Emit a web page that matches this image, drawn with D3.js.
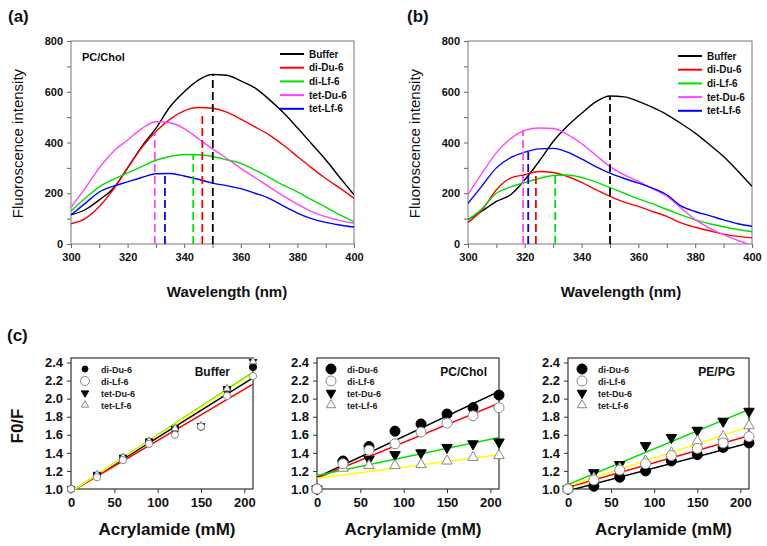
<!DOCTYPE html>
<html>
<head>
<meta charset="utf-8">
<script src="https://cdn.jsdelivr.net/npm/d3@7"></script>
<style>
  body { margin: 0; background: #fff; }
  svg text { font-family: "Liberation Sans", Arial, Helvetica, sans-serif; }
</style>
</head>
<body>
<svg id="chart" width="767" height="546"></svg>
<script>
// ---- spectra (a) PC/Chol and (b), sampled every 5 nm ----
const wavelengths = [300,305,310,315,320,325,330,335,340,345,350,355,360,365,370,375,380,385,390,395,400];
const spectrumNames = ["Buffer", "di-Du-6", "di-Lf-6", "tet-Du-6", "tet-Lf-6"];
const spectrumColors = ["#000000", "#ff0000", "#00e000", "#ff44ff", "#0000ff"];

const aBuffer = [115,135,174,220,300,384,456,541,600,646,668,665,643,615,570,518,458,395,332,262,194];
const aDiDu   = [80,100,148,215,299,380,443,492,525,538,535,520,492,462,430,390,345,300,258,220,180];
const aDiLf   = [130,180,225,255,280,305,330,345,353,352,345,332,318,292,263,232,205,175,145,115,88];
const aTetDu  = [145,220,300,365,410,455,482,478,455,415,375,338,298,262,225,190,157,128,108,92,82];
const aTetLf  = [115,160,205,228,245,262,277,278,268,255,240,230,218,200,180,150,122,100,85,75,67];

const bBuffer = [96,130,168,194,253,325,404,465,515,560,583,580,562,538,510,475,437,392,345,288,227];
const bDiDu   = [85,135,214,260,273,286,282,266,243,214,188,165,148,128,109,83,66,52,39,30,24];
const bDiLf   = [95,140,200,225,242,258,270,272,262,245,222,200,178,158,136,115,95,80,68,57,48];
const bTetDu  = [195,280,360,415,448,457,455,432,395,350,305,272,247,218,188,142,96,63,37,14,-5];
const bTetLf  = [160,230,300,340,362,375,377,362,335,305,279,258,240,220,194,150,128,112,95,80,70];

// dashed lines marking emission maxima: wavelength and top value
const aPeakNm  = [350.1, 346.4, 343.2, 329.6, 333.2];
const aPeakTop = [670, 515, 354, 440, 282];
const bPeakNm  = [350.0, 323.9, 330.7, 319.4, 321.2];
const bPeakTop = [583, 276, 272, 450, 372];

// ---- (c) acrylamide quenching ----
const acrylamide = [0, 30, 60, 90, 120, 150, 180, 210];
const quenchNames = ["di-Du-6", "di-Lf-6", "tet-Du-6", "tet-Lf-6"];
const fitColors = ["#000000", "#ff0000", "#00e000", "#ffff00"];
const fitEnds = [0, 210];

const bufDiDu  = [1.00,1.15,1.34,1.52,1.66,1.69,2.10,2.35];
const bufDiLf  = [1.00,1.13,1.32,1.50,1.60,1.69,2.03,2.25];
const bufTetDu = [1.00,1.16,1.35,1.53,1.67,1.70,2.11,2.41];
const bufTetLf = [1.00,1.16,1.35,1.53,1.67,1.70,2.11,2.41];
const bufFits  = [[0.97,2.23],[0.97,2.16],[0.97,2.29],[0.97,2.28]];

const pcDiDu  = [1.00,1.31,1.47,1.64,1.72,1.83,1.90,2.04];
const pcDiLf  = [1.00,1.28,1.43,1.50,1.63,1.73,1.81,1.90];
const pcTetDu = [1.00,1.28,1.33,1.38,1.40,1.46,1.50,1.52];
const pcTetLf = [1.00,1.23,1.26,1.26,1.27,1.31,1.35,1.37];
const pcFits  = [[1.13,2.08],[1.12,1.95],[1.15,1.57],[1.12,1.38]];

const peDiDu  = [1.00,1.03,1.13,1.20,1.31,1.38,1.46,1.51];
const peDiLf  = [1.00,1.10,1.21,1.28,1.37,1.45,1.51,1.58];
const peTetDu = [1.00,1.18,1.27,1.48,1.57,1.65,1.75,1.86];
const peTetLf = [1.00,1.12,1.23,1.31,1.40,1.53,1.58,1.70];
const peFits  = [[0.98,1.51],[1.02,1.59],[1.05,1.88],[1.03,1.69]];

const svg = d3.select("#chart");
let clipId = 0;

function styleAxis(g, size, color) {
  g.select(".domain").remove();
  g.selectAll(".tick line").attr("stroke", color);
  g.selectAll(".tick text")
    .attr("font-size", size)
    .attr("font-weight", "bold")
    .attr("fill", "#111")
    .style("font-family", '"Liberation Sans", Arial, sans-serif');
}

function addClip(box) {
  const id = "clip" + (clipId++);
  svg.append("clipPath").attr("id", id)
    .append("rect")
    .attr("x", box.x0).attr("y", box.y0)
    .attr("width", box.x1 - box.x0).attr("height", box.y1 - box.y0);
  return id;
}

// ---------- spectrum panels ----------
function drawSpectrum(box, series, peakNm, peakTop, opts) {
  const x = d3.scaleLinear().domain([300, 400]).range([box.x0, box.x1]);
  const y = d3.scaleLinear().domain([0, 800]).range([box.y1, box.y0]);
  const g = svg.append("g");
  const clip = addClip(box);

  const xa = g.append("g").attr("transform", `translate(0,${box.y1})`)
    .call(d3.axisBottom(x).tickValues(d3.range(300, 401, 10)).tickSize(4).tickPadding(5)
      .tickFormat(d => d % 20 === 0 ? d : ""));
  styleAxis(xa, 11, "#666");
  const ya = g.append("g").attr("transform", `translate(${box.x0},0)`)
    .call(d3.axisLeft(y).tickValues(d3.range(0, 801, 100)).tickSize(4).tickPadding(4)
      .tickFormat(d => d % 200 === 0 ? d : ""));
  styleAxis(ya, 11, "#666");

  g.append("rect")
    .attr("x", box.x0).attr("y", box.y0)
    .attr("width", box.x1 - box.x0).attr("height", box.y1 - box.y0)
    .attr("fill", "none").attr("stroke", "#777").attr("stroke-width", 1);

  const line = d3.line()
    .x((d, i) => x(wavelengths[i]))
    .y(d => y(d))
    .curve(d3.curveMonotoneX);

  const plot = g.append("g").attr("clip-path", `url(#${clip})`);
  series.forEach((s, i) => {
    plot.append("path").datum(s)
      .attr("d", line)
      .attr("fill", "none")
      .attr("stroke", spectrumColors[i])
      .attr("stroke-width", 1.4);
  });

  peakNm.forEach((nm, i) => {
    plot.append("line")
      .attr("x1", x(nm)).attr("x2", x(nm))
      .attr("y1", y(0)).attr("y2", y(peakTop[i]))
      .attr("stroke", spectrumColors[i])
      .attr("stroke-width", 1.8)
      .attr("stroke-dasharray", "8,4");
  });

  // legend
  const lg = g.append("g");
  spectrumNames.forEach((name, i) => {
    const ly = opts.legendY + i * 13.7;
    lg.append("line")
      .attr("x1", box.x1 - 74).attr("x2", box.x1 - 50)
      .attr("y1", ly).attr("y2", ly)
      .attr("stroke", spectrumColors[i]).attr("stroke-width", 2);
    lg.append("text")
      .attr("x", box.x1 - 45).attr("y", ly + 3.5)
      .attr("font-size", 10).attr("font-weight", "bold").attr("fill", "#111")
      .text(name);
  });

  if (opts.title) {
    g.append("text").attr("x", box.x0 + 11).attr("y", box.y0 + 20)
      .attr("font-size", 11).attr("font-weight", "bold").attr("fill", "#111")
      .text(opts.title);
  }

  g.append("text")
    .attr("transform", `translate(${box.x0 - 48},${(box.y0 + box.y1) / 2 + 1}) rotate(-90)`)
    .attr("text-anchor", "middle")
    .attr("font-size", 15).attr("fill", "#111")
    .text("Fluoroscence intensity");

  g.append("text")
    .attr("x", opts.xLabelX).attr("y", 297)
    .attr("text-anchor", "middle")
    .attr("font-size", 15).attr("font-weight", "bold").attr("fill", "#111")
    .text("Wavelength (nm)");

  g.append("text")
    .attr("x", opts.letterX).attr("y", 22)
    .attr("font-size", 17).attr("font-weight", "bold").attr("fill", "#111")
    .text(opts.letter);
}

// ---------- quenching panels ----------
function marker(sel, kind, s) {
  if (kind === 0 || kind === 1) {
    sel.append("circle").attr("r", s)
      .attr("fill", kind === 0 ? "#000" : "#fff")
      .attr("stroke", kind === 0 ? "#000" : "#888")
      .attr("stroke-width", 1);
  } else {
    const area = Math.sqrt(3) / 4 * Math.pow(s * 2.1, 2);
    sel.append("path")
      .attr("d", d3.symbol().type(d3.symbolTriangle).size(area))
      .attr("transform", kind === 2 ? "rotate(180)" : null)
      .attr("fill", kind === 2 ? "#000" : "#fff")
      .attr("stroke", kind === 2 ? "#000" : "#888")
      .attr("stroke-width", 1);
  }
}

function drawQuench(box, series, fits, opts) {
  const x = d3.scaleLinear().domain([0, 210]).range([box.x0, box.x1]);
  const y = d3.scaleLinear().domain([1, 2.45]).range([box.y1, box.y0]);
  const g = svg.append("g");
  const clip = addClip(box);

  const xa = g.append("g").attr("transform", `translate(0,${box.y1})`)
    .call(d3.axisBottom(x).tickValues([0, 50, 100, 150, 200]).tickSize(4).tickPadding(5));
  styleAxis(xa, 13, "#333");
  const ya = g.append("g").attr("transform", `translate(${box.x0},0)`)
    .call(d3.axisLeft(y).tickValues(d3.range(1, 2.41, 0.2)).tickSize(4).tickPadding(4)
      .tickFormat(d3.format(".1f")));
  styleAxis(ya, 13, "#333");

  g.append("rect")
    .attr("x", box.x0).attr("y", box.y0)
    .attr("width", box.x1 - box.x0).attr("height", box.y1 - box.y0)
    .attr("fill", "none").attr("stroke", "#333").attr("stroke-width", 1.2);

  const plot = g.append("g").attr("clip-path", `url(#${clip})`);
  const fitLine = d3.line().x((d, i) => x(fitEnds[i])).y(d => y(d));
  fits.forEach((f, i) => {
    plot.append("path").datum(f)
      .attr("d", fitLine)
      .attr("fill", "none")
      .attr("stroke", fitColors[i])
      .attr("stroke-width", 1.5);
  });

  // draw order so the open circle ends on top
  [0, 2, 3, 1].forEach(k => {
    g.selectAll(null).data(series[k]).enter()
      .append("g")
      .attr("transform", (d, i) => `translate(${x(acrylamide[i])},${y(d)})`)
      .each(function () { marker(d3.select(this), k, opts.size); });
  });

  // legend
  quenchNames.forEach((name, i) => {
    const ly = box.y0 + 11 + i * 12;
    marker(g.append("g").attr("transform", `translate(${box.x0 + 14},${ly})`), i, opts.legendSize[i]);
    g.append("text")
      .attr("x", box.x0 + 30).attr("y", ly + 3.5)
      .attr("font-size", 9).attr("font-weight", "bold").attr("fill", "#222")
      .text(name);
  });

  g.append("text")
    .attr("x", box.x1 - opts.titleRight).attr("y", box.y0 + 18)
    .attr("text-anchor", "end")
    .attr("font-size", 12).attr("font-weight", "bold").attr("fill", "#111")
    .text(opts.title);

  g.append("text")
    .attr("x", (box.x0 + box.x1) / 2 + 5).attr("y", 535)
    .attr("text-anchor", "middle")
    .attr("font-size", 17).attr("font-weight", "bold").attr("fill", "#111")
    .text("Acrylamide (mM)");
}

drawSpectrum({x0: 71, x1: 354, y0: 41, y1: 244},
  [aBuffer, aDiDu, aDiLf, aTetDu, aTetLf], aPeakNm, aPeakTop,
  {legendY: 54, title: "PC/Chol", xLabelX: 227, letter: "(a)", letterX: 8});

drawSpectrum({x0: 468, x1: 752, y0: 41, y1: 244},
  [bBuffer, bDiDu, bDiLf, bTetDu, bTetLf], bPeakNm, bPeakTop,
  {legendY: 56, title: null, xLabelX: 621, letter: "(b)", letterX: 407});

drawQuench({x0: 71, x1: 253, y0: 358, y1: 489},
  [bufDiDu, bufDiLf, bufTetDu, bufTetLf], bufFits,
  {size: 3.6, legendSize: [3, 4.5, 3.5, 3.5], title: "Buffer", titleRight: 23});

drawQuench({x0: 317, x1: 499, y0: 358, y1: 489},
  [pcDiDu, pcDiLf, pcTetDu, pcTetLf], pcFits,
  {size: 5, legendSize: [5, 5, 4.5, 4.5], title: "PC/Chol", titleRight: 12});

drawQuench({x0: 568, x1: 749, y0: 358, y1: 489},
  [peDiDu, peDiLf, peTetDu, peTetLf], peFits,
  {size: 5, legendSize: [5, 5, 4.5, 4.5], title: "PE/PG", titleRight: 14});

svg.append("text").attr("x", 7).attr("y", 341)
  .attr("font-size", 17).attr("font-weight", "bold").attr("fill", "#111")
  .text("(c)");

svg.append("text")
  .attr("transform", "translate(23,426) rotate(-90)")
  .attr("text-anchor", "middle")
  .attr("font-size", 17).attr("font-weight", "bold").attr("fill", "#111")
  .text("F0/F");
</script>
</body>
</html>
